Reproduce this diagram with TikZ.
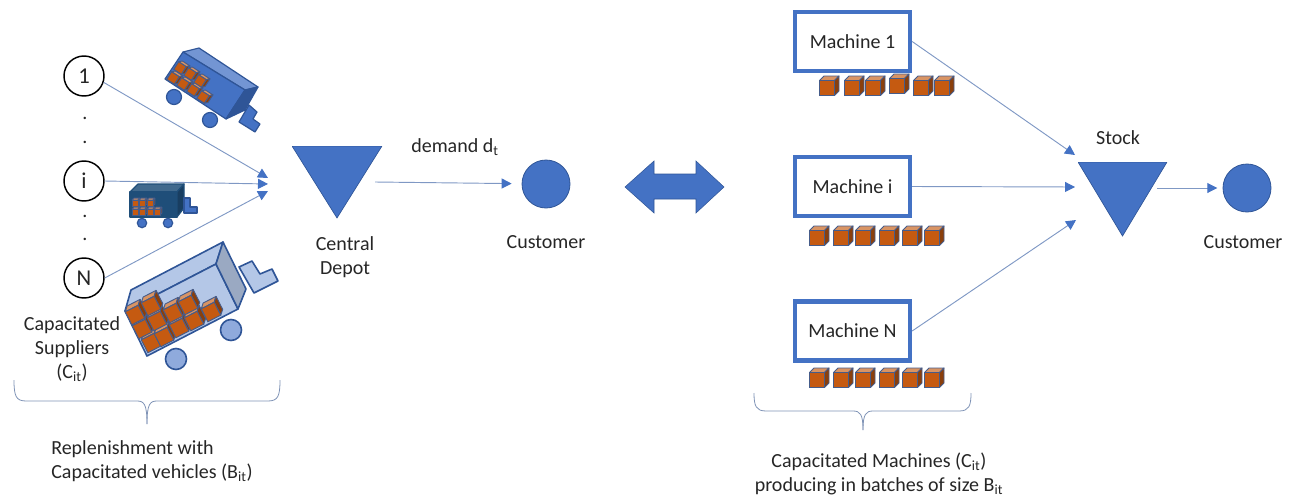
\documentclass[tikz,border=0pt]{standalone}
\usepackage{fontspec}
\setmainfont{Carlito}
\usetikzlibrary{arrows.meta}
\definecolor{mblue}{HTML}{4472C4}
\definecolor{dblue}{HTML}{2F5597}
\definecolor{lblue}{HTML}{B4C7E7}
\definecolor{wblue}{HTML}{8FAADC}
\definecolor{navy}{HTML}{1F4E79}
\definecolor{linec}{HTML}{7F98C4}
\definecolor{orng}{HTML}{C55A11}
\definecolor{cubeedge}{HTML}{465C8A}
\newcommand{\cubebox}[4]{%
 \begin{scope}[shift={(#1,#2)},rotate=#4]
  \pgfmathsetmacro{\hs}{#3/2}\pgfmathsetmacro{\dd}{#3*0.3}
  \fill[draw=cubeedge,fill=orng!65!white,line width=.7pt,line join=round] (-\hs,-\hs)--(-\hs+\dd,-\hs-\dd)--(\hs+\dd,-\hs-\dd)--(\hs,-\hs)--cycle;
  \fill[draw=cubeedge,fill=orng!70!black,line width=.7pt,line join=round] (\hs,-\hs)--(\hs+\dd,-\hs-\dd)--(\hs+\dd,\hs-\dd)--(\hs,\hs)--cycle;
  \fill[draw=cubeedge,fill=orng,line width=.7pt] (-\hs,-\hs) rectangle (\hs,\hs);
 \end{scope}}
\tikzset{
 lbl/.style={font=\fontsize{15pt}{18pt}\selectfont,align=center,inner sep=0pt,text=black!85},
 ball/.style={circle,draw=black,line width=1.1pt,fill=white,minimum size=40*0.75pt,inner sep=0pt,font=\fontsize{17pt}{18pt}\selectfont,text=black!85},
 cust/.style={circle,draw=dblue,line width=.6pt,fill=mblue,minimum size=48*0.75pt,inner sep=0pt},
 mach/.style={rectangle,draw=mblue,line width=3.2pt,fill=white,minimum width=115*0.75pt,minimum height=59*0.75pt,inner sep=0pt,font=\fontsize{15pt}{18pt}\selectfont,text=black!85},
 tri/.style n args={2}{rectangle,inner sep=0pt,minimum width=#1*0.75pt,minimum height=#2*0.75pt,
   path picture={\fill[mblue,draw=dblue,line width=.5pt] (path picture bounding box.north west)--(path picture bounding box.north east)--(path picture bounding box.south)--cycle;}},
 conn/.style={draw=linec,line width=.7pt,-{Triangle[length=7.5pt,width=7.5pt,color=mblue]}},
 brc/.style={draw=linec!80!gray,line width=.6pt},
 trk/.style={draw=dblue,line width=.9pt,line join=round},
 trkb/.style={draw=dblue,line width=1.2pt,line join=round},
}
\begin{document}
\begin{tikzpicture}[x=0.75pt,y=-0.75pt]
\useasboundingbox (0,0) rectangle (1294,496);
% truck 1
\fill[trk,fill=mblue!75!white] (183,52)--(199,48)--(258,87)--(245,90)--cycle;
\fill[trk,fill=mblue] (183,52)--(245,90)--(226,119)--(165,79)--cycle;
\fill[trk,fill=dblue] (245,90)--(258,87)--(245,110)--(226,119)--cycle;
\fill[trk,fill=mblue] (249,105)--(257,112)--(253,119)--(260,124)--(255,132)--(239,122)--cycle;
\fill[trk,fill=mblue] (174,97) circle (7.5);
\fill[trk,fill=mblue] (210,120) circle (7.5);
\foreach \x/\y in {173/78,183/84,193/90,203/97,180/68,190/74,200/81}{\cubebox{\x}{\y}{9}{-33}}
% truck 2
\fill[trk,draw=navy,fill=navy!85!white] (130,192)--(138,184)--(184,184)--(177,192)--cycle;
\fill[trk,draw=navy,fill=navy] (130,192) rectangle (177,217);
\fill[trk,draw=navy,fill=navy!80!black] (177,192)--(184,184)--(184,208)--(177,217)--cycle;
\fill[trk,fill=mblue] (184,198)--(190,198)--(190,207)--(197,207)--(197,213)--(184,213)--cycle;
\fill[trk,fill=mblue] (142,223) circle (4.7);
\fill[trk,fill=mblue] (168,223) circle (4.7);
\foreach \x/\y in {135/212,142/212,150/212,157/212,135/203,142/203,150/203}{\cubebox{\x}{\y}{6}{0}}
% truck 3
\fill[trkb,fill=lblue] (131,290)--(223,242)--(216,264)--(125,311)--cycle;
\fill[trkb,fill=lblue] (125,311)--(216,264)--(238,309)--(147,356)--cycle;
\fill[trkb,fill=gray!30!dblue!55!white] (216,264)--(223,242)--(246,289)--(238,309)--cycle;
\fill[trkb,fill=lblue] (239,267)--(252,261)--(260,274)--(272,269)--(278,281)--(254,293)--cycle;
\fill[trkb,fill=wblue] (231,330) circle (10.5);
\fill[trkb,fill=wblue] (176,359) circle (10.5);
\foreach \x/\y in {151/343,164/337,179/328,194/321,211/312,142/329,157/321,173/313,188/305,135/315,151/306}{\cubebox{\x}{\y}{14.5}{27}}
% suppliers
\node[ball] (n1) at (84,76) {1};
\node[ball] (ni) at (84,181) {i};
\node[ball] (nN) at (84,278) {N};
\node[lbl] (d1) at (85,118) {.};
\node[lbl] (d2) at (85,142) {.};
\node[lbl] (d3) at (85,216) {.};
\node[lbl] (d4) at (85,239) {.};
\node[lbl] (capsup) at (72,349) {Capacitated\\Suppliers\\(C\textsubscript{it})};
\coordinate (j1) at (268,178);
\coordinate (j2) at (268,184);
\coordinate (j3) at (268,191);
\draw[conn] (n1.-18) -- (j1);
\draw[conn] (ni.east) -- (j2);
\draw[conn] (nN.east) -- (j3);
% depot
\node[tri={90}{72}] (depot) at (337,182) {};
\node[lbl] (deplab) at (345,257) {Central\\Depot};
\coordinate (depR) at (375,182);
\node[cust] (c1) at (546,184) {};
\node[lbl] (c1lab) at (546,242) {Customer};
\node[lbl] (demand) at (455,147) {demand d\textsubscript{t}};
\draw[conn,shorten >=7.5pt] (depR) -- (c1);
% brace left
\coordinate (bl1) at (14,380);\coordinate (bl2) at (280,380);\coordinate (blt) at (147,424);
\draw[brc] (bl1) .. controls (14,396) and (16,401) .. (26,401) -- (137,401) .. controls (144,401) and (147,404) .. (blt);
\draw[brc] (bl2) .. controls (280,396) and (278,401) .. (268,401) -- (157,401) .. controls (150,401) and (147,404) .. (blt);
\node[lbl,align=left,anchor=west] (replab) at (51,461) {Replenishment with\\Capacitated vehicles (B\textsubscript{it})};
% double arrow
\fill[mblue,draw=dblue,line width=.4pt] (625,187)--(654,161)--(654,174)--(696,174)--(696,161)--(724,187)--(696,213)--(696,199)--(654,199)--(654,213)--cycle;
% machines
\node[mach] (m1) at (852.5,41.5) {Machine 1};
\node[mach] (mi) at (852.5,186.5) {Machine i};
\node[mach] (mN) at (852.5,331) {Machine N};
\foreach \x/\y in {827/88,852/88,873/88,897/86,921/88,942/88,
 817/238,841/238,863/238,887/238,910/238,932/238,
 817/380,841/380,863/380,887/380,910/380,932/380}{\cubebox{\x}{\y}{15}{0}}
% stock
\node[tri={89}{74}] (stock) at (1122.5,199) {};
\node[lbl] (stocklab) at (1118,138) {Stock};
\coordinate (sT) at (1075,155);
\coordinate (sM) at (1075,187);
\coordinate (sB) at (1076,220);
\draw[conn] (m1.east) -- (sT);
\draw[conn] (mi.east) -- (sM);
\draw[conn] (mN.east) -- (sB);
\coordinate (stR) at (1157,188);
\node[cust] (c2) at (1247,188) {};
\node[lbl] (c2lab) at (1243,242) {Customer};
\draw[conn,shorten >=4pt] (stR) -- (c2);
% brace right
\coordinate (br1) at (754,393);\coordinate (br2) at (971,393);\coordinate (brt) at (863,430);
\draw[brc] (br1) .. controls (754,406) and (756,411) .. (766,411) -- (853,411) .. controls (860,411) and (863,414) .. (brt);
\draw[brc] (br2) .. controls (971,406) and (969,411) .. (959,411) -- (873,411) .. controls (866,411) and (863,414) .. (brt);
\node[lbl] (maclab) at (879,474) {Capacitated Machines (C\textsubscript{it})\\producing in batches of size B\textsubscript{it}};
\end{tikzpicture}
\end{document}
